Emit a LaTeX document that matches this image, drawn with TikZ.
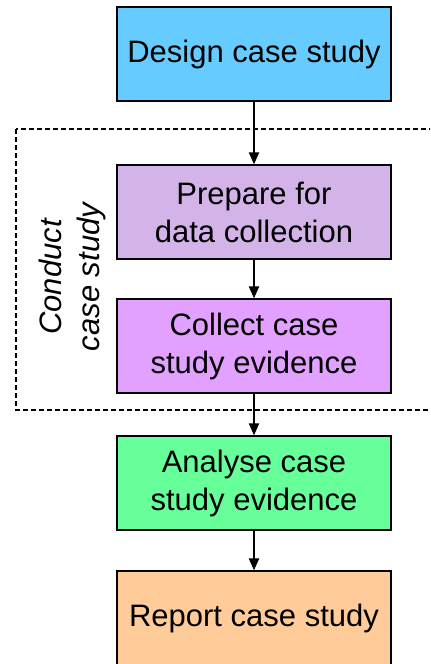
\documentclass[tikz,border=0pt]{standalone}
\usepackage{fontspec}
\setmainfont{Liberation Sans}
\usetikzlibrary{arrows.meta}
\definecolor{designcol}{HTML}{66CCFF}
\definecolor{preparecol}{HTML}{D4B4E8}
\definecolor{collectcol}{HTML}{E2A0FF}
\definecolor{analysecol}{HTML}{66FF99}
\definecolor{reportcol}{HTML}{FFCC99}
\begin{document}
\begin{tikzpicture}[x=0.5pt, y=-0.5pt, >={Triangle[length=6pt,width=5pt]},
	stage/.style={draw, line width=0.6pt, minimum width=137pt, minimum height=47pt, inner sep=0pt, align=center, font=\fontsize{15.5}{19}\selectfont}]
			\useasboundingbox (0,0) rectangle (430,664);
			\clip (0,0) rectangle (430,664);
			\draw[line width=0.6pt, dash pattern=on 2.5pt off 1.5pt] (16,129) rectangle (440,410);
			\node[stage, fill=designcol] (design) at (254,54) {Design case study};
			\node[stage, fill=preparecol] (prepare) at (254,212) {Prepare for\\data collection};
			\node[stage, fill=collectcol] (collect) at (254,346) {Collect case\\study evidence};
			\node[stage, fill=analysecol] (analyse) at (254,483) {Analyse case\\study evidence};
			\node[stage, fill=reportcol] (report) at (254,618) {Report case study};
			\node[rotate=90, align=center, font=\fontsize{15.5}{19}\selectfont\itshape] (conduct) at (72,277) {Conduct\\case study};
			\draw[->, line width=1pt] (design) -- (prepare);
			\draw[->, line width=1pt] (prepare) -- (collect);
			\draw[->, line width=1pt] (collect) -- (analyse);
			\draw[->, line width=1pt] (analyse) -- (report);
	\end{tikzpicture}
\end{document}
